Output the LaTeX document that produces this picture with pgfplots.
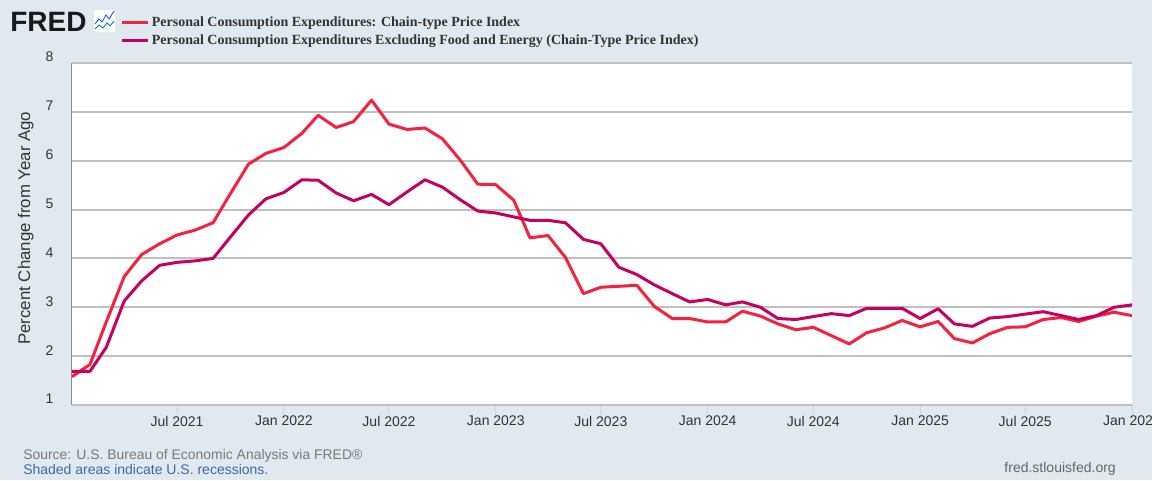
\documentclass[border=0pt]{standalone}
\usepackage{fontspec}
\setmainfont{Liberation Sans}
\newfontfamily\legendfont{Liberation Serif}
\usepackage{pgfplots}
\usepackage{pgfplotstable}
\pgfplotsset{compat=1.18}

\definecolor{bgcol}{HTML}{E1E9F0}
\definecolor{gridcol}{HTML}{C0C0C0}
\definecolor{tickcol}{HTML}{CCD6EB}
\definecolor{headline}{HTML}{F6213D}
\definecolor{core}{HTML}{C60060}
\definecolor{labelcol}{HTML}{333333}
\definecolor{notecol}{HTML}{3B6AA5}

% day = days since 1 Jan 2021
\pgfplotstableread{
day pce core
0 1.58 1.69
31 1.83 1.69
59 2.70 2.18
90 3.63 3.13
120 4.08 3.54
151 4.30 3.86
181 4.48 3.92
212 4.58 3.95
243 4.73 4.00
273 5.33 4.44
304 5.93 4.89
334 6.15 5.22
365 6.27 5.35
396 6.56 5.61
424 6.93 5.60
455 6.68 5.34
485 6.80 5.18
516 7.24 5.31
546 6.75 5.10
577 6.64 5.36
608 6.67 5.61
638 6.45 5.46
669 6.01 5.20
699 5.52 4.97
730 5.51 4.93
761 5.19 4.85
789 4.42 4.78
820 4.47 4.78
850 4.02 4.73
881 3.28 4.39
911 3.41 4.30
942 3.43 3.82
973 3.45 3.67
1003 3.02 3.46
1034 2.77 3.28
1064 2.77 3.11
1095 2.70 3.16
1126 2.70 3.05
1155 2.92 3.11
1186 2.82 3.00
1216 2.66 2.77
1247 2.54 2.75
1277 2.59 2.81
1308 2.42 2.87
1339 2.25 2.83
1369 2.48 2.98
1400 2.58 2.98
1430 2.73 2.98
1461 2.60 2.77
1492 2.71 2.97
1520 2.36 2.66
1551 2.27 2.61
1581 2.46 2.78
1612 2.59 2.81
1642 2.60 2.86
1673 2.75 2.91
1704 2.79 2.83
1734 2.71 2.75
1765 2.82 2.83
1795 2.90 3.00
1826 2.83 3.05
}\pcedata

\begin{document}
\begin{tikzpicture}[x=0.75pt,y=0.75pt]
\fill[bgcol] (0,0) rectangle (1152,480);
\useasboundingbox (0,0) rectangle (1152,480);

\begin{axis}[
    at={(54pt,56.25pt)}, anchor=south west,
    scale only axis, width=795pt, height=256.5pt,
    xmin=0, xmax=1826, ymin=1, ymax=8,
    axis background/.style={fill=white},
    axis x line*=bottom, axis y line*=left,
    x axis line style={draw=gridcol, line width=1pt},
    y axis line style={draw=gray!90, line width=0.75pt},
    ytick={1,...,8},
    ymajorgrids,
    grid style={draw=gridcol, line width=1.5pt},
    xtick={181,365,546,730,911,1095,1277,1461,1642,1826},
    xticklabels={Jul 2021,Jan 2022,Jul 2022,Jan 2023,Jul 2023,Jan 2024,Jul 2024,Jan 2025,Jul 2025,Jan 2026},
    tick align=outside,
    x tick style={draw=tickcol, line width=0.75pt},
    major tick length=7.5pt,
    y tick style={draw=none},
    xticklabel style={font=\fontsize{10.5}{12}\selectfont, text=labelcol, yshift=2.7pt},
    yticklabel style={font=\fontsize{10.5}{12}\selectfont, text=labelcol, yshift=4.5pt, xshift=-3pt},
    /pgf/number format/assume math mode=true,
    ylabel={Percent Change from Year Ago},
    every axis y label/.style={at={(axis description cs:-0.0435,0.517)}, rotate=90, anchor=center,
        font=\fontsize{12.6}{14}\selectfont, text=labelcol},
    legend style={at={(axis description cs:0.0458,1.145)}, anchor=north west, draw=none, fill=none,
        font=\legendfont\bfseries\fontsize{10.5}{12}\selectfont, text=labelcol,
        row sep=1pt, inner sep=0pt},
    legend cell align=left,
    legend image code/.code={\draw[#1, line width=2.25pt] (0pt,0pt) -- (19pt,0pt);},
    line join=round,
]
\addplot[headline, line width=2.25pt] table[x=day, y=pce] {\pcedata};
\addlegendentry{Personal Consumption Expenditures: Chain-type Price Index}
\addplot[core, line width=2.25pt] table[x=day, y=core] {\pcedata};
\addlegendentry{Personal Consumption Expenditures Excluding Food and Energy (Chain-Type Price Index)}
\end{axis}

% logo
\node[anchor=west, inner sep=0pt, text=black!90, font=\bfseries\fontsize{21}{21}\selectfont] at (10,458) {FRED};
\fill[white, rounded corners=1pt] (94,448) rectangle (115,470);
\draw[blue!70!cyan, line width=0.6pt] (95,456) -- (99,461) -- (102,458) -- (106,465) -- (109,461) -- (114,469);
\draw[teal, line width=0.6pt] (95,451) -- (99,455) -- (103,452) -- (107,457) -- (110,454) -- (114,459);

% footer
\node[anchor=west, inner sep=0pt, text=black!53, font=\fontsize{10.45}{12}\selectfont] at (23,24.5) {Source: U.S. Bureau of Economic Analysis via FRED\textregistered};
\node[anchor=west, inner sep=0pt, text=notecol, font=\fontsize{10.5}{12}\selectfont] at (23,11) {Shaded areas indicate U.S. recessions.};
\node[anchor=east, inner sep=0pt, text=black!60, font=\fontsize{10.5}{12}\selectfont] at (1116,11) {fred.stlouisfed.org};
\end{tikzpicture}
\end{document}
